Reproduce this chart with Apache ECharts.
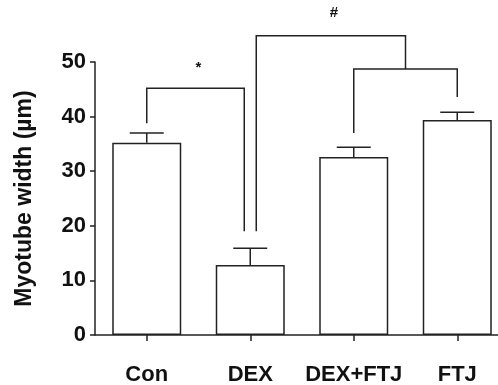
<!DOCTYPE html>
<html>
<head>
<meta charset="utf-8">
<script src="https://cdn.jsdelivr.net/npm/echarts@6/dist/echarts.min.js"></script>
<style>
  html, body { margin: 0; padding: 0; background: #fff; }
  #chart { width: 498px; height: 385px; }
</style>
</head>
<body>
<div id="chart"></div>
<script>
// groups and measured means / upper error ends
var groups = ['Con', 'DEX', 'DEX+FTJ', 'FTJ'];
var means = [35.2, 12.8, 32.6, 39.4];
var errTops = [37.0, 15.9, 34.4, 40.8];
var yTicks = [0, 10, 20, 30, 40, 50];

// significance brackets: leg positions are category indexes (array = midpoint of those)
var brackets = [
  { from: 0, fromEnd: 38.8, to: 1, toEnd: 19.0, top: 45.2, mark: '*', markAt: 49.0, toSide: -1 },
  { from: 1, fromEnd: 19.0, to: [2, 3], toEnd: 48.7, top: 54.8, mark: '#', markAt: 59.0, fromSide: 1 },
  { from: 2, fromEnd: 37.0, to: 3, toEnd: 43.6, top: 48.7, mark: '', markAt: 0 }
];

var lineColor = '#222';
var fontFamily = 'Liberation Sans, Arial, sans-serif';
var legGap = 6;
var capHalf = 17;

var chart = echarts.init(document.getElementById('chart'), null, { renderer: 'canvas' });

function xOf(api, cat) {
  if (Array.isArray(cat)) {
    var a = api.coord([cat[0], 0])[0];
    var b = api.coord([cat[1], 0])[0];
    return (a + b) / 2;
  }
  return api.coord([cat, 0])[0];
}

var option = {
  animation: false,
  backgroundColor: '#fff',
  grid: { left: 95, top: 62, width: 414, height: 273, outerBoundsMode: 'none', containLabel: false },
  xAxis: {
    type: 'category',
    data: groups,
    axisLine: { lineStyle: { color: lineColor, width: 1.5 } },
    axisTick: { show: true, alignWithLabel: true, length: 6, lineStyle: { color: lineColor, width: 1.5 } },
    axisLabel: { interval: 0, hideOverlap: false, color: '#111', fontWeight: 'bold', fontSize: 22, fontFamily: fontFamily, margin: 29 }
  },
  yAxis: {
    type: 'value',
    min: 0,
    max: 50,
    interval: 10,
    name: 'Myotube width (µm)',
    nameLocation: 'middle',
    nameRotate: 90,
    nameGap: 59,
    nameTextStyle: { color: '#111', fontWeight: 'bold', fontSize: 23, fontFamily: fontFamily },
    axisLine: { show: true, lineStyle: { color: lineColor, width: 1.5 } },
    axisTick: { show: true, length: 5, lineStyle: { color: lineColor, width: 1.5 } },
    splitLine: { show: false },
    axisLabel: {
      color: '#111', fontWeight: 'bold', fontSize: 22, fontFamily: fontFamily, margin: 9,
      formatter: function (v) { return yTicks.indexOf(v) >= 0 ? String(v) : ''; }
    }
  },
  series: [
    {
      type: 'bar',
      data: means,
      barWidth: 69,
      itemStyle: { color: '#fff', borderColor: lineColor, borderWidth: 1.5 },
      z: 2
    },
    {
      type: 'custom',
      clip: false,
      z: 3,
      data: groups.map(function (g, i) { return [i, means[i], errTops[i]]; }),
      renderItem: function (params, api) {
        var base = api.coord([api.value(0), api.value(1)]);
        var top = api.coord([api.value(0), api.value(2)]);
        var style = { stroke: lineColor, lineWidth: 1.5 };
        return {
          type: 'group',
          children: [
            { type: 'line', shape: { x1: base[0], y1: base[1], x2: top[0], y2: top[1] }, style: style },
            { type: 'line', shape: { x1: top[0] - capHalf, y1: top[1], x2: top[0] + capHalf, y2: top[1] }, style: style }
          ]
        };
      }
    },
    {
      type: 'custom',
      clip: false,
      z: 4,
      data: brackets.map(function (b, i) { return [i, b.top]; }),
      renderItem: function (params, api) {
        var b = brackets[params.dataIndex];
        var x1 = xOf(api, b.from) + (b.fromSide || 0) * legGap;
        var x2 = xOf(api, b.to) + (b.toSide || 0) * legGap;
        var yTop = api.coord([0, b.top])[1];
        var y1 = api.coord([0, b.fromEnd])[1];
        var y2 = api.coord([0, b.toEnd])[1];
        var style = { stroke: lineColor, lineWidth: 1.5, fill: null };
        var children = [
          { type: 'polyline', shape: { points: [[x1, y1], [x1, yTop], [x2, yTop], [x2, y2]] }, style: style }
        ];
        if (b.mark) {
          children.push({
            type: 'text',
            style: {
              text: b.mark,
              x: (x1 + x2) / 2 + 3,
              y: api.coord([0, b.markAt])[1],
              fill: '#111',
              font: 'bold 15px ' + fontFamily,
              align: 'center',
              verticalAlign: 'middle'
            }
          });
        }
        return { type: 'group', children: children };
      }
    }
  ]
};

chart.setOption(option);
</script>
</body>
</html>
